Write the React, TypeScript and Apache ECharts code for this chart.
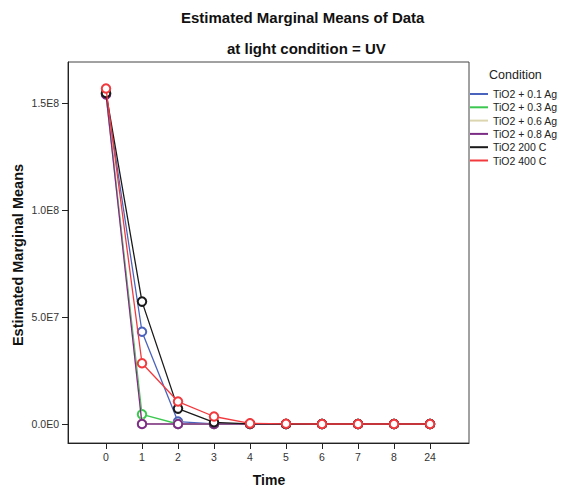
import React, { useEffect, useRef } from "react";
import * as echarts from "echarts";

const timeLabels = ["0", "1", "2", "3", "4", "5", "6", "7", "8", "24"];
const seriesNames = ["TiO2 + 0.1 Ag", "TiO2 + 0.3 Ag", "TiO2 + 0.6 Ag", "TiO2 + 0.8 Ag", "TiO2 200 C", "TiO2 400 C"];
const seriesColors = ["#4A64BE", "#3CC850", "#DCD6B0", "#7B2D85", "#1A1A1A", "#F23A3E"];
const ag01 = [1.545e8, 4.31e7, 1.1e6, 1.0e5, 0, 0, 0, 0, 0, 0];
const ag03 = [1.545e8, 4.5e6, 0, 0, 0, 0, 0, 0, 0, 0];
const ag06 = [1.543e8, 2.0e5, 0, 0, 0, 0, 0, 0, 0, 0];
const ag08 = [1.54e8, 0, 0, 0, 0, 0, 0, 0, 0, 0];
const c200 = [1.547e8, 5.72e7, 7.2e6, 8.0e5, 1.0e5, 0, 0, 0, 0, 0];
const c400 = [1.568e8, 2.84e7, 1.05e7, 3.5e6, 3.0e5, 1.0e5, 0, 0, 0, 0];
const yTickValues = [0, 5e7, 1e8, 1.5e8];
const yTickLabels = ["0.0E0", "5.0E7", "1.0E8", "1.5E8"];

const allValues = [ag01, ag03, ag06, ag08, c200, c400];
const FONT = "Liberation Sans, Arial, sans-serif";

export default function App() {
  const ref = useRef<HTMLDivElement>(null);
  useEffect(() => {
    if (!ref.current) return;
    const chart = echarts.init(ref.current, undefined, { renderer: "svg" });
    const xIdx = timeLabels.map((_, i) => i);
    const option: any = {
      animation: false,
      backgroundColor: "#ffffff",
      textStyle: { fontFamily: FONT },
      grid: {
        left: 68,
        top: 62,
        width: 401,
        height: 381,
        show: true,
        borderColor: "#444",
        borderWidth: 1,
        backgroundColor: "transparent",
      },
      xAxis: {
        type: "value",
        min: -1.0556,
        max: 10.083,
        axisLine: { show: true, onZero: false, lineStyle: { color: "#222", width: 1 } },
        axisTick: { show: true, length: 6, customValues: xIdx, lineStyle: { color: "#222" } },
        axisLabel: {
          customValues: xIdx,
          margin: 8,
          fontSize: 10.5,
          color: "#333",
          fontFamily: FONT,
          formatter: (v: number) => timeLabels[Math.round(v)] ?? "",
        },
        splitLine: { show: false },
      },
      yAxis: {
        type: "value",
        min: -8.88e6,
        max: 1.6916e8,
        axisLine: { show: true, onZero: false, lineStyle: { color: "#222", width: 1 } },
        axisTick: { show: true, length: 6, customValues: yTickValues, lineStyle: { color: "#222" } },
        axisLabel: {
          customValues: yTickValues,
          margin: 9,
          fontSize: 10.5,
          color: "#333",
          fontFamily: FONT,
          formatter: (v: number) => {
            const i = yTickValues.indexOf(v);
            return i >= 0 ? yTickLabels[i] : "";
          },
        },
        splitLine: { show: false },
      },
      legend: {
        orient: "vertical",
        left: 470,
        top: 87.5,
        padding: 0,
        itemWidth: 18,
        itemHeight: 2,
        itemGap: 0.3,
        icon: "rect",
        textStyle: { fontSize: 10.5, lineHeight: 13, color: "#222", fontFamily: FONT },
        data: seriesNames.map((n, i) => ({ name: n, icon: "rect", itemStyle: { color: seriesColors[i], borderWidth: 0 } })),
      },
      graphic: [
        {
          type: "text",
          left: 181,
          top: 10,
          style: { text: "Estimated Marginal Means of Data", font: `bold 15px ${FONT}`, fill: "#111" },
        },
        {
          type: "text",
          left: 227,
          top: 41,
          style: { text: "at light condition = UV", font: `bold 15px ${FONT}`, fill: "#111" },
        },
        {
          type: "text",
          left: 489,
          top: 68,
          style: { text: "Condition", font: `12.5px ${FONT}`, fill: "#222" },
        },
        {
          type: "text",
          x: 18,
          y: 255,
          rotation: Math.PI / 2,
          style: { text: "Estimated Marginal Means", font: `bold 14.5px ${FONT}`, fill: "#111", align: "center", verticalAlign: "middle" },
        },
        {
          type: "text",
          x: 269,
          y: 480,
          style: { text: "Time", font: `bold 14px ${FONT}`, fill: "#111", align: "center", verticalAlign: "middle" },
        },
      ],
      series: seriesNames.map((n, i) => ({
        name: n,
        type: "line",
        data: allValues[i].map((v, k) => [k, v]),
        symbol: "emptyCircle",
        symbolSize: 8.5,
        showSymbol: true,
        lineStyle: { color: seriesColors[i], width: 1.3 },
        itemStyle: { color: seriesColors[i], borderColor: seriesColors[i], borderWidth: 1 },
        z: 2 + i,
      })),
    };
    chart.setOption(option);
    return () => chart.dispose();
  }, []);
  return <div ref={ref} style={{ position: "fixed", left: 0, top: 0, width: 562, height: 488 }} />;
}
